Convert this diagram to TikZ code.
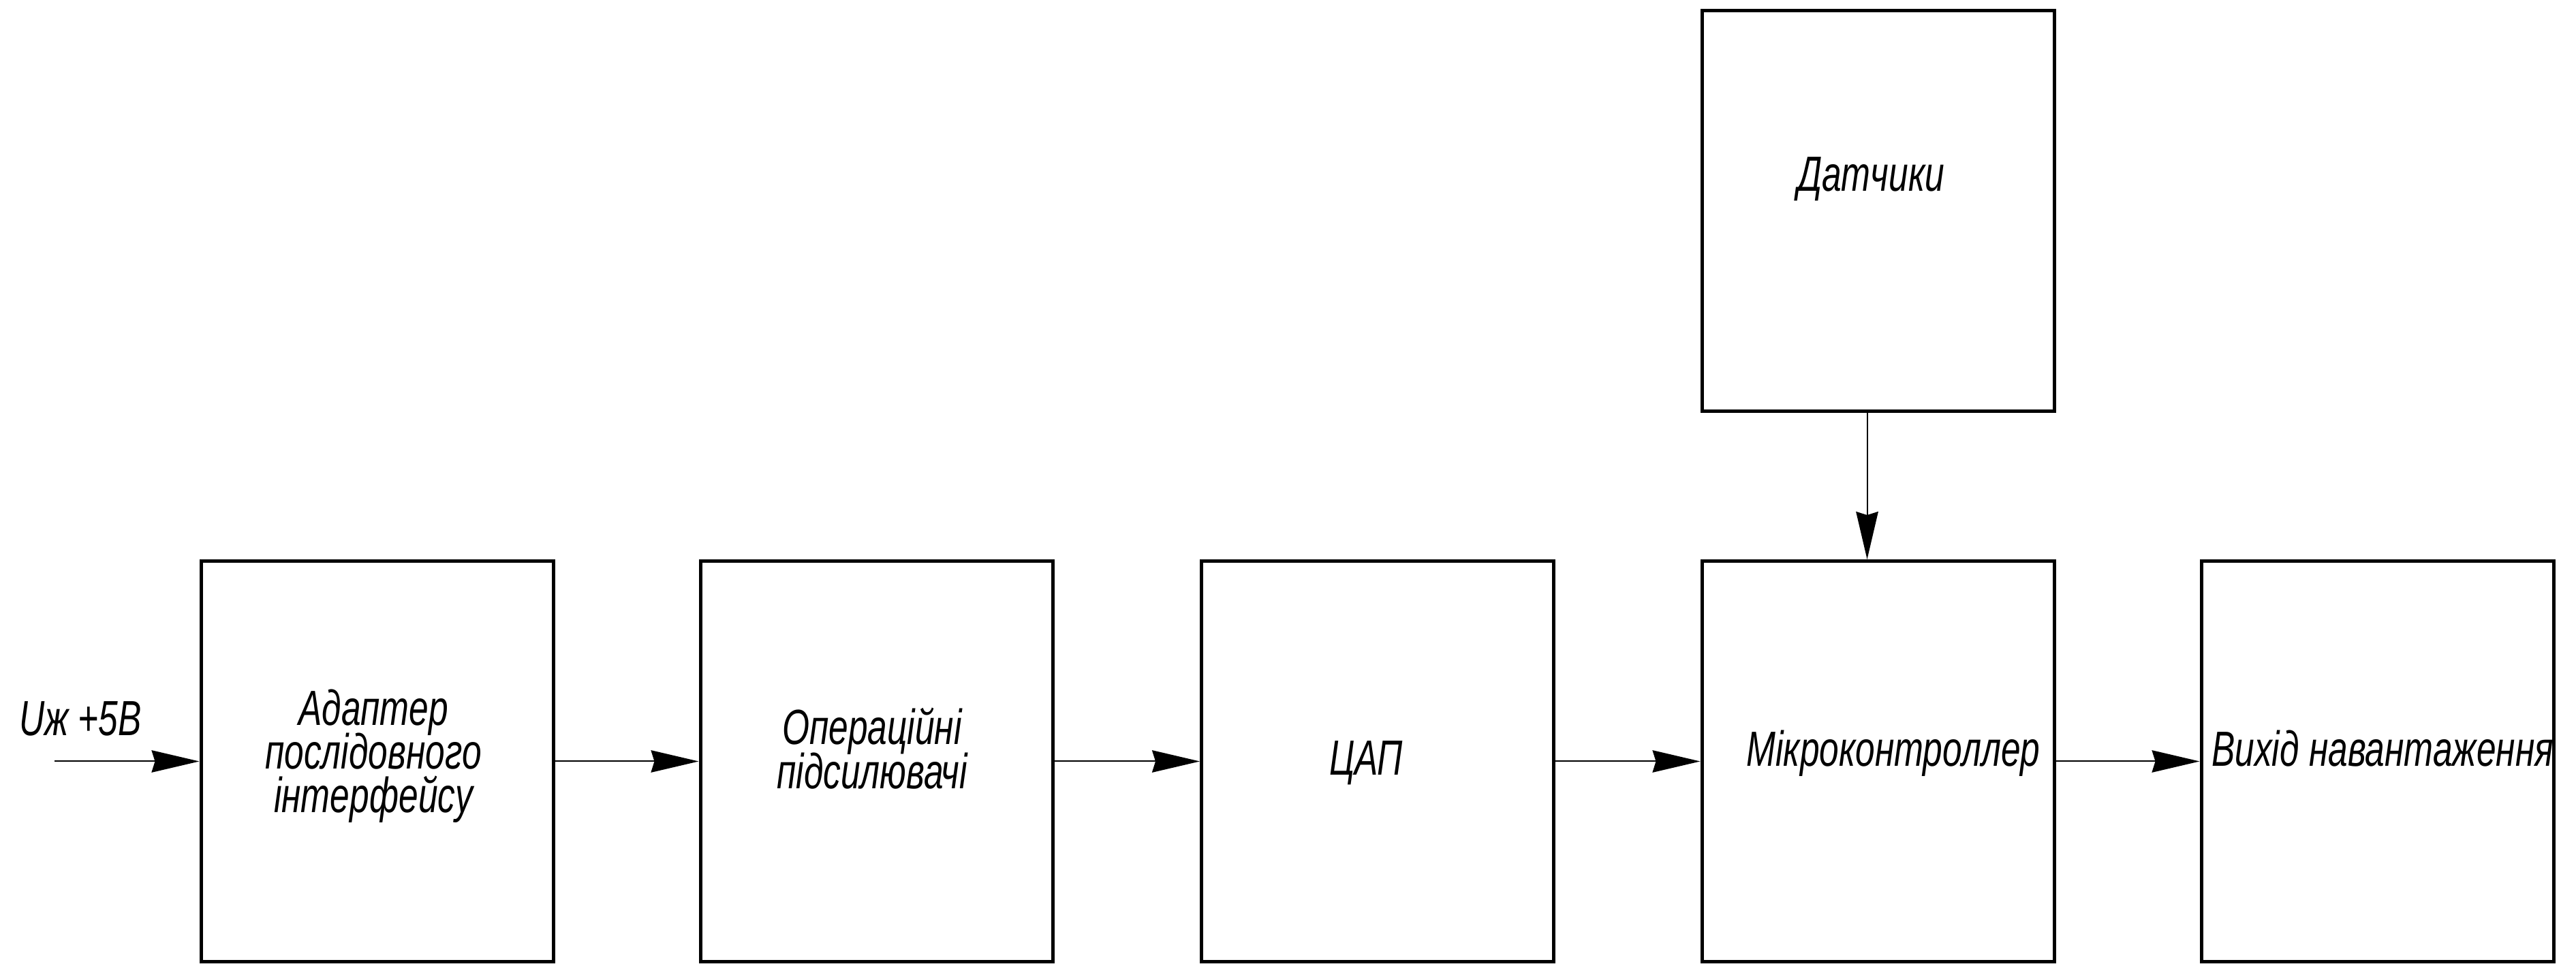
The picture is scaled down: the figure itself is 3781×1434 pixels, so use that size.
\documentclass[tikz,border=0pt]{standalone}
\usepackage{fontspec}
\usetikzlibrary{arrows.meta}
% narrow slanted drafting-style lettering
\newfontfamily\gost[FakeStretch=0.71]{Liberation Sans}
\newcommand\gostfont{\gost\itshape\fontsize{14.5}{12.8}\selectfont
  \setlength{\lineskiplimit}{-20pt}\setlength{\lineskip}{0pt}}
\tikzset{
  block/.style={draw=black, line width=1pt, minimum width=517*0.2pt, minimum height=588*0.2pt, inner sep=0pt},
  caption/.style={inner sep=0pt, anchor=base, align=center, font=\gostfont},
  flow/.style={draw=black, line width=0.4pt, -{Stealth[length=14pt, width=6.5pt, inset=1pt]}}
}
\begin{document}
\begin{tikzpicture}[x=0.2pt, y=-0.2pt]
  \useasboundingbox (0,0) rectangle (3781,1434);

  % blocks
  \node[block] (adapter) at (553.5,1117.5) {};
  \node[block] (opamp)   at (1286.5,1117.5) {};
  \node[block] (dac)     at (2022,1117.5) {};
  \node[block] (mcu)     at (2756.5,1117.5) {};
  \node[block] (load)    at (3489.5,1117.5) {};
  \node[block] (sens)    at (2756.5,310) {};

  % block captions (anchored on the baseline of the last line)
  \node[caption] (adapterT) at (548,1192) {Адаптер\\послідовного\\інтерфейсу};
  \node[caption] (opampT)   at (1280,1157) {Операційні\\підсилювачі};
  \node[caption] (dacT)     at (2005,1138) {ЦАП};
  \node[caption] (mcuT)     at (2779,1124) {Мікроконтроллер};
  \node[caption] (loadT)    at (3497,1124) {Вихід навантаження};
  \node[caption] (sensT)    at (2746,281) {Датчики};

  % supply input
  \coordinate (in) at (80,1117.5);
  \node[caption] (inT) at (118,1080) {Uж +5В};

  % connections
  \draw[flow] (in) -- (adapter.west);
  \draw[flow] (adapter.east) -- (opamp.west);
  \draw[flow] (opamp.east) -- (dac.west);
  \draw[flow] (dac.east) -- (mcu.west);
  \draw[flow] (mcu.east) -- (load.west);
  \draw[flow] ([xshift=-16*0.2pt]sens.south) -- ([xshift=-16*0.2pt]mcu.north);
\end{tikzpicture}
\end{document}
